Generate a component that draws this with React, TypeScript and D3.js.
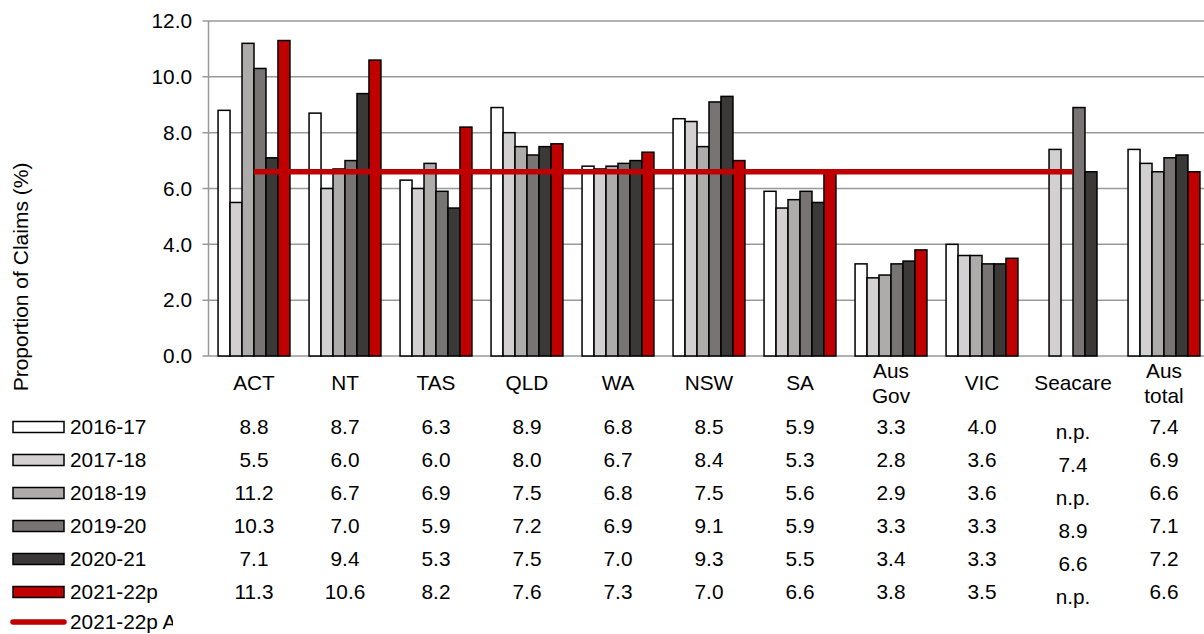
import React, { useRef, useEffect } from "react";
import * as d3 from "d3";

const categories = ["ACT", "NT", "TAS", "QLD", "WA", "NSW", "SA", "Aus\nGov", "VIC", "Seacare", "Aus\ntotal"];
const seriesNames = ["2016-17", "2017-18", "2018-19", "2019-20", "2020-21", "2021-22p"];
const v2016 = [8.8, 8.7, 6.3, 8.9, 6.8, 8.5, 5.9, 3.3, 4.0, null, 7.4];
const v2017 = [5.5, 6.0, 6.0, 8.0, 6.7, 8.4, 5.3, 2.8, 3.6, 7.4, 6.9];
const v2018 = [11.2, 6.7, 6.9, 7.5, 6.8, 7.5, 5.6, 2.9, 3.6, null, 6.6];
const v2019 = [10.3, 7.0, 5.9, 7.2, 6.9, 9.1, 5.9, 3.3, 3.3, 8.9, 7.1];
const v2020 = [7.1, 9.4, 5.3, 7.5, 7.0, 9.3, 5.5, 3.4, 3.3, 6.6, 7.2];
const v2021 = [11.3, 10.6, 8.2, 7.6, 7.3, 7.0, 6.6, 3.8, 3.5, null, 6.6];
const ausAverage = [6.6, 6.6, 6.6, 6.6, 6.6, 6.6, 6.6, 6.6, 6.6, 6.6, null];
const lineName = "2021-22p Aus average";
const yTicks = [0, 2, 4, 6, 8, 10, 12];

const seriesValues = [v2016, v2017, v2018, v2019, v2020, v2021];
const colors = ["#FFFFFF", "#D2D0D1", "#AEABAB", "#777473", "#3B3938", "#C00000"];

const FONT = "'Liberation Sans', Arial, sans-serif";
const FS = "20.8px";

const ClaimsChart = () => {
  const ref = useRef<SVGSVGElement | null>(null);

  useEffect(() => {
    if (!ref.current) return;
    const svg = d3.select(ref.current);
    svg.selectAll("*").remove();

    const left = 208.5;
    const step = 91;
    const top = 21;
    const bottom = 356;

    const x0 = d3
      .scaleBand()
      .domain(categories)
      .range([left, left + step * categories.length])
      .paddingInner(0.21)
      .paddingOuter(0.105);
    const x1 = d3.scaleBand().domain(seriesNames).range([0, x0.bandwidth()]);
    const y = d3.scaleLinear().domain([0, 12]).range([bottom, top]);

    // gridlines
    svg
      .append("g")
      .selectAll("line")
      .data(yTicks)
      .enter()
      .append("line")
      .attr("x1", left - 6)
      .attr("x2", 1204)
      .attr("y1", (d) => y(d))
      .attr("y2", (d) => y(d))
      .attr("stroke", "#999999")
      .attr("stroke-width", 1.5);

    // y axis line
    svg
      .append("line")
      .attr("x1", left)
      .attr("x2", left)
      .attr("y1", top)
      .attr("y2", bottom)
      .attr("stroke", "#999999")
      .attr("stroke-width", 1.5);

    // tick labels
    svg
      .append("g")
      .selectAll("text")
      .data(yTicks)
      .enter()
      .append("text")
      .attr("x", 192)
      .attr("y", (d) => y(d))
      .attr("dy", "0.35em")
      .attr("text-anchor", "end")
      .style("font-family", FONT)
      .style("font-size", FS)
      .text((d) => d.toFixed(1));

    // y axis title
    svg
      .append("text")
      .attr("transform", "translate(21,277) rotate(-90)")
      .attr("text-anchor", "middle")
      .attr("dy", "0.35em")
      .style("font-family", FONT)
      .style("font-size", "21px")
      .text("Proportion of Claims (%)");

    // bars
    seriesValues.forEach((vals, si) => {
      svg
        .append("g")
        .selectAll("rect")
        .data(vals.map((v, i) => ({ v, c: categories[i] })).filter((d) => d.v !== null))
        .enter()
        .append("rect")
        .attr("x", (d) => (x0(d.c) || 0) + (x1(seriesNames[si]) || 0))
        .attr("y", (d) => y(d.v as number))
        .attr("width", x1.bandwidth())
        .attr("height", (d) => bottom - y(d.v as number))
        .attr("fill", colors[si])
        .attr("stroke", "#000")
        .attr("stroke-width", 1.5);
    });

    // average line
    const line = d3
      .line<number | null>()
      .defined((d) => d !== null)
      .x((_, i) => (x0(categories[i]) || 0) + x0.bandwidth() / 2)
      .y((d) => y(d as number));
    svg
      .append("path")
      .datum(ausAverage)
      .attr("d", line)
      .attr("fill", "none")
      .attr("stroke", "#C00000")
      .attr("stroke-width", 5.5);

    // category labels
    categories.forEach((c) => {
      const lines = c.split("\n");
      const cx = (x0(c) || 0) + x0.bandwidth() / 2;
      lines.forEach((t, li) => {
        svg
          .append("text")
          .attr("x", cx)
          .attr("y", lines.length === 1 ? 383 : 371 + li * 25)
          .attr("dy", "0.35em")
          .attr("text-anchor", "middle")
          .style("font-family", FONT)
          .style("font-size", FS)
          .text(t);
      });
    });

    // data table + legend
    const rowY = (i: number) => 427 + i * 33;
    seriesValues.forEach((vals, si) => {
      svg
        .append("rect")
        .attr("x", 13)
        .attr("y", rowY(si) - 5.5)
        .attr("width", 51)
        .attr("height", 11)
        .attr("fill", colors[si])
        .attr("stroke", "#000")
        .attr("stroke-width", 1.5);
      svg
        .append("text")
        .attr("x", 70)
        .attr("y", rowY(si))
        .attr("dy", "0.35em")
        .style("font-family", FONT)
        .style("font-size", FS)
        .text(seriesNames[si]);
      categories.forEach((c, ci) => {
        const v = vals[ci];
        svg
          .append("text")
          .attr("x", (x0(c) || 0) + x0.bandwidth() / 2)
          .attr("y", rowY(si) + (c === "Seacare" ? 5 : 0))
          .attr("dy", "0.35em")
          .attr("text-anchor", "middle")
          .style("font-family", FONT)
          .style("font-size", FS)
          .text(v === null ? "n.p." : v.toFixed(1));
      });
    });

    // line legend row
    const ly = rowY(6) - 3;
    svg
      .append("line")
      .attr("x1", 13)
      .attr("x2", 64)
      .attr("y1", ly)
      .attr("y2", ly)
      .attr("stroke", "#C00000")
      .attr("stroke-width", 5.5)
      .attr("stroke-linecap", "round");
    svg
      .append("clipPath")
      .attr("id", "legclip")
      .append("rect")
      .attr("x", 0)
      .attr("y", 600)
      .attr("width", 173)
      .attr("height", 34);
    svg
      .append("text")
      .attr("x", 70)
      .attr("y", ly)
      .attr("dy", "0.35em")
      .attr("clip-path", "url(#legclip)")
      .style("font-family", FONT)
      .style("font-size", FS)
      .text(lineName);
  }, []);

  return <svg ref={ref} width={1204} height={634} style={{ display: "block", background: "#fff" }} />;
};

export default function App() {
  return (
    <div style={{ position: "fixed", left: 0, top: 0, width: 1204, height: 634, overflow: "hidden", background: "#fff" }}>
      <ClaimsChart />
    </div>
  );
}
